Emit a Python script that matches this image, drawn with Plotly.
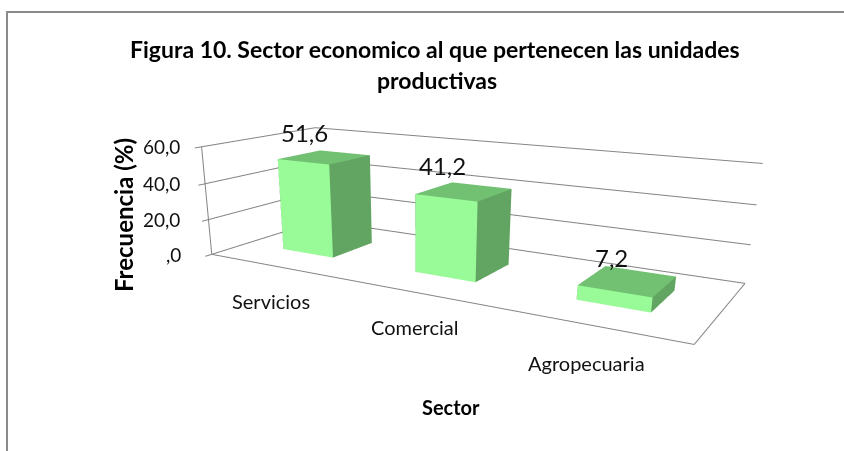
import plotly.graph_objects as go

# ---- data ----
categories = ["Servicios", "Comercial", "Agropecuaria"]
values = [51.6, 41.2, 7.2]
value_text = ["51,6", "41,2", "7,2"]
tick_values = [0, 20, 40, 60]
tick_text = [",0", "20,0", "40,0", "60,0"]

title_line1 = "Figura 10. Sector economico al que pertenecen las unidades"
title_line2 = "productivas"
y_title = "Frecuencia (%)"
x_title = "Sector"

# ---- layout / 3D view settings ----
WIN_W, WIN_H = 844, 451
FIG_H = 690                      # taller scene viewport (clipped to the window) gives a gentler perspective
X_RANGE = [-0.1, 3.1]
Y_RANGE = [-0.1, 1.1]
Z_RANGE = [-2, 62]
ASPECT = dict(x=2.0, y=0.8246, z=0.4434)
CAMERA = dict(eye=dict(x=1.4216, y=-2.6335, z=0.6563),
              center=dict(x=-0.0392, y=-0.2287, z=-0.4468),
              up=dict(x=-0.0044, y=-0.0027, z=1),
              projection=dict(type="perspective"))
BAR_HALF_WIDTH = 0.199
BAR_DEPTH = (0.3039, 0.6912)
WALL_DEPTH = 1.0
TICK_LEN = 0.05

tick_label_xshift = [-29.2, -26.1, -22.9, -19.6]
cat_label_shift = [(-2.2, -35.1), (0.4, -34.9), (-2.8, -38.1)]
val_label_shift = [(2.0, 29.1), (-3.5, 32.0), (-2.6, 33.3)]

FRONT = "#98FB98"
SIDE = "#62A562"
TOP = "#72C172"
LINE = "#848484"
FONT = "Lato"


def box_mesh(x0, x1, y0, y1, z0, z1):
    vx = [x0, x1, x1, x0, x0, x1, x1, x0]
    vy = [y0, y0, y1, y1, y0, y0, y1, y1]
    vz = [z0, z0, z0, z0, z1, z1, z1, z1]
    quads = [((0, 1, 2, 3), SIDE), ((4, 5, 6, 7), TOP), ((0, 1, 5, 4), FRONT),
             ((3, 2, 6, 7), SIDE), ((0, 3, 7, 4), SIDE), ((1, 2, 6, 5), SIDE)]
    I, J, K, C = [], [], [], []
    for (a, b, c, d), col in quads:
        I += [a, a]; J += [b, c]; K += [c, d]; C += [col, col]
    return go.Mesh3d(x=vx, y=vy, z=vz, i=I, j=J, k=K, facecolor=C, flatshading=True,
                     lighting=dict(ambient=1.0, diffuse=0.0, specular=0.0, roughness=1.0, fresnel=0.0),
                     hoverinfo="skip", showscale=False)


fig = go.Figure()


def seg(p0, p1):
    fig.add_trace(go.Scatter3d(x=[p0[0], p1[0]], y=[p0[1], p1[1]], z=[p0[2], p1[2]], mode="lines",
                               line=dict(color=LINE, width=2), hoverinfo="skip", showlegend=False))


n = len(categories)
zmax = tick_values[-1]
# side wall and back wall gridlines
for tv in tick_values:
    seg((0, -TICK_LEN, tv), (0, WALL_DEPTH, tv))
    seg((0, WALL_DEPTH, tv), (n, WALL_DEPTH, tv))
# value axis line and floor outline
seg((0, 0, 0), (0, 0, zmax))
seg((0, 0, 0), (n, 0, 0))
seg((n, 0, 0), (n, WALL_DEPTH, 0))

# bars
for i, v in enumerate(values):
    fig.add_trace(box_mesh(i + 0.5 - BAR_HALF_WIDTH, i + 0.5 + BAR_HALF_WIDTH,
                           BAR_DEPTH[0], BAR_DEPTH[1], 0, v))

scene_ann = []
for tv, tt, xs in zip(tick_values, tick_text, tick_label_xshift):
    scene_ann.append(dict(x=0, y=0, z=tv, text=tt, showarrow=False, xanchor="right", yanchor="middle",
                          xshift=xs, font=dict(family=FONT, size=19, color="#111111")))
for i, (cat, (xs, ys)) in enumerate(zip(categories, cat_label_shift)):
    scene_ann.append(dict(x=i + 0.5, y=0, z=0, text=cat, showarrow=False, xanchor="center", yanchor="middle",
                          xshift=xs, yshift=ys, font=dict(family=FONT, size=20, color="#111111")))
for i, (v, vt, (xs, ys)) in enumerate(zip(values, value_text, val_label_shift)):
    scene_ann.append(dict(x=i + 0.5, y=BAR_DEPTH[0], z=v, text=vt, showarrow=False, xanchor="center",
                          yanchor="middle", xshift=xs, yshift=ys,
                          font=dict(family=FONT, size=24, color="#111111")))


def py(v):
    return 1 - v / FIG_H


fig.update_layout(
    width=WIN_W, height=FIG_H, margin=dict(l=0, r=0, t=0, b=0),
    paper_bgcolor="white", showlegend=False, hovermode=False,
    scene=dict(
        domain=dict(x=[0, 1], y=[0, 1]),
        xaxis=dict(visible=False, range=X_RANGE),
        yaxis=dict(visible=False, range=Y_RANGE),
        zaxis=dict(visible=False, range=Z_RANGE),
        aspectmode="manual", aspectratio=ASPECT,
        camera=CAMERA,
        bgcolor="rgba(0,0,0,0)",
        annotations=scene_ann,
    ),
    annotations=[
        dict(x=435 / WIN_W, y=py(49), xref="paper", yref="paper", text="<b>" + title_line1 + "</b>",
             showarrow=False, xanchor="center", yanchor="middle", font=dict(family=FONT, size=23, color="#000")),
        dict(x=437 / WIN_W, y=py(80), xref="paper", yref="paper", text="<b>" + title_line2 + "</b>",
             showarrow=False, xanchor="center", yanchor="middle", font=dict(family=FONT, size=23, color="#000")),
        dict(x=123 / WIN_W, y=py(215), xref="paper", yref="paper", text="<b>" + y_title + "</b>",
             textangle=-90, showarrow=False, xanchor="center", yanchor="middle",
             font=dict(family=FONT, size=24, color="#000")),
        dict(x=451 / WIN_W, y=py(407), xref="paper", yref="paper", text="<b>" + x_title + "</b>",
             showarrow=False, xanchor="center", yanchor="middle", font=dict(family=FONT, size=20, color="#000")),
    ],
    shapes=[dict(type="rect", xref="paper", yref="paper", x0=7 / WIN_W, x1=1.02, y0=-0.02, y1=py(12),
                 line=dict(color="#8a8a8a", width=2), fillcolor="rgba(0,0,0,0)")],
)

fig.write_html("out.html", config={"displayModeBar": False},
               post_script=("document.body.style.margin='0';"
                            "var gd=document.getElementById('{plot_id}');"
                            "gd.parentElement.style.height='451px';"
                            "gd.parentElement.style.overflow='hidden';"
                            "document.documentElement.style.overflow='hidden';"))
